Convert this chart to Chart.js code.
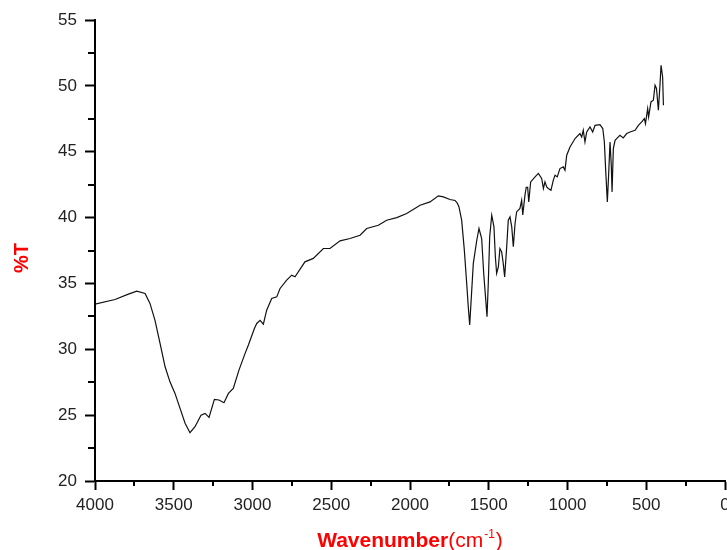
<!DOCTYPE html>
<html><head><meta charset="utf-8">
<script src="https://cdn.jsdelivr.net/npm/chart.js@4/dist/chart.umd.min.js"></script>
<style>html,body{margin:0;padding:0;background:#fff}#wrap{width:727px;height:550px;position:relative}</style>
</head><body><div id="wrap"><canvas id="c" width="727" height="550"></canvas></div>
<script>
const wavenumbers = [4000,3873,3788,3735,3682,3651,3619,3587,3555,3524,3492,3460,3428,3397,3365,3327,3301,3276,3242,3213,3181,3153,3122,3086,3047,3026,2988,2973,2952,2931,2910,2878,2846,2825,2783,2751,2730,2667,2614,2550,2508,2444,2381,2317,2275,2201,2148,2084,2021,1936,1873,1820,1788,1746,1714,1700,1689,1672,1655,1640,1630,1621,1608,1598,1576,1562,1545,1532,1519,1511,1503,1494,1481,1467,1458,1450,1439,1429,1418,1408,1399,1386,1376,1365,1354,1344,1333,1323,1302,1291,1284,1270,1262,1253,1246,1234,1206,1185,1164,1153,1143,1132,1122,1105,1090,1079,1065,1048,1027,1016,1005,984,952,921,910,900,889,878,857,840,825,794,776,766,757,747,739,730,722,717,709,698,688,667,646,624,603,571,550,529,512,505,491,485,470,455,444,435,423,413,406,396,391];
const transmittance = [33.43,33.78,34.19,34.42,34.24,33.48,32.2,30.45,28.67,27.53,26.65,25.51,24.38,23.67,24.12,25.0,25.13,24.83,26.2,26.15,25.94,26.65,27.03,28.42,29.69,30.32,31.58,31.96,32.2,31.9,32.97,33.86,33.98,34.62,35.25,35.63,35.5,36.64,36.9,37.65,37.65,38.23,38.41,38.66,39.17,39.42,39.8,40.0,40.31,40.94,41.19,41.65,41.57,41.37,41.3,41.1,40.81,39.8,37.53,35.0,33.22,31.84,34.49,36.52,38.28,39.17,38.41,35.76,33.73,32.47,35.0,38.54,40.18,39.29,37.02,35.76,36.26,37.65,37.4,36.52,35.5,37.78,39.8,40.05,39.29,37.78,39.55,40.43,40.69,41.32,40.2,41.7,42.3,42.3,41.19,42.71,43.09,43.35,42.97,42.21,42.71,42.33,42.21,42.08,42.84,43.22,43.09,43.72,43.85,43.6,44.73,45.36,46.0,46.38,46.12,46.63,45.74,46.5,46.88,46.5,47.0,47.06,46.76,45.74,43.47,41.19,43.22,45.74,43.98,41.95,45.23,45.87,46.0,46.25,46.05,46.38,46.5,46.63,47.0,47.26,47.51,47.13,48.27,47.64,48.78,48.91,50.04,49.8,48.15,50.04,51.56,50.67,48.53];
const xTickValues = [4000,3500,3000,2500,2000,1500,1000,500,0];
const xMinorTicks = [3750,3250,2750,2250,1750,1250,750,250];
const yTickValues = [20,25,30,35,40,45,50,55];
const yMinorTicks = [22.5,27.5,32.5,37.5,42.5,47.5,52.5];
const xTitle = 'Wavenumber';
const xTitleUnit = '(cm';
const xTitleSup = '-1';
const yTitle = '%T';

const points = wavenumbers.map((w, i) => ({x: w, y: transmittance[i]}));
const FONT = "'Liberation Sans', Arial, sans-serif";

const extras = {
  id: 'extras',
  afterDraw(chart) {
    const ctx = chart.ctx, xs = chart.scales.x, ys = chart.scales.y, ca = chart.chartArea;
    ctx.save();
    ctx.strokeStyle = '#000';
    ctx.lineWidth = 2;
    ctx.beginPath();
    xMinorTicks.forEach(v => {
      const p = Math.round(xs.getPixelForValue(v));
      ctx.moveTo(p, ca.bottom); ctx.lineTo(p, ca.bottom + 5);
    });
    yMinorTicks.forEach(v => {
      const p = Math.round(ys.getPixelForValue(v));
      ctx.moveTo(ca.left - 7, p); ctx.lineTo(ca.left, p);
    });
    ctx.stroke();
    // x title
    ctx.fillStyle = '#ff0000';
    ctx.textBaseline = 'alphabetic';
    ctx.textAlign = 'left';
    const fB = 'bold 21px ' + FONT, fN = '21px ' + FONT, fS = '12px ' + FONT;
    ctx.font = fB; const w1 = ctx.measureText(xTitle).width;
    ctx.font = fN; const w2 = ctx.measureText(xTitleUnit).width; const w4 = ctx.measureText(')').width;
    ctx.font = fS; const w3 = ctx.measureText(xTitleSup).width;
    const total = w1 + w2 + w3 + w4 + 2;
    let x = (ca.left + ca.right) / 2 - total / 2;
    const by = 547;
    ctx.font = fB; ctx.fillText(xTitle, x, by); x += w1;
    ctx.font = fN; ctx.fillText(xTitleUnit, x, by); x += w2 + 1;
    ctx.font = fS; ctx.fillText(xTitleSup, x, by - 9); x += w3 + 1;
    ctx.font = fN; ctx.fillText(')', x, by);
    // y title
    ctx.translate(22, 258);
    ctx.rotate(-Math.PI / 2);
    ctx.font = 'bold 20px ' + FONT; ctx.textAlign = 'center'; ctx.textBaseline = 'middle';
    ctx.fillText(yTitle, 0, 0);
    ctx.restore();
  }
};

new Chart(document.getElementById('c'), {
  type: 'scatter',
  data: { datasets: [{ data: points, showLine: true, borderColor: '#111', borderWidth: 1.2, pointRadius: 0, tension: 0, fill: false }] },
  options: {
    responsive: false, animation: false, devicePixelRatio: 1,
    layout: { padding: { top: 20, right: 2, left: 0, bottom: 0 } },
    plugins: { legend: { display: false }, tooltip: { enabled: false } },
    scales: {
      x: {
        type: 'linear', reverse: true, min: 0, max: 4000, position: 'bottom',
        afterBuildTicks: s => { s.ticks = xTickValues.map(v => ({value: v})); },
        afterFit: s => { s.height = 69; s.paddingLeft = 0; s.paddingRight = 0; },
        grid: { drawOnChartArea: false, drawTicks: true, tickLength: 9, tickColor: '#000', tickWidth: 2 },
        border: { display: true, color: '#000', width: 2 },
        ticks: { color: '#222', font: { family: FONT, size: 17 }, padding: 5, maxRotation: 0, autoSkip: false, callback: v => String(v) }
      },
      y: {
        type: 'linear', min: 20, max: 55, position: 'left',
        afterBuildTicks: s => { s.ticks = yTickValues.map(v => ({value: v})); },
        afterFit: s => { s.width = 95; s.paddingTop = 0; s.paddingBottom = 0; },
        grid: { drawOnChartArea: false, drawTicks: true, tickLength: 10, tickColor: '#000', tickWidth: 2 },
        border: { display: true, color: '#000', width: 2 },
        ticks: { color: '#222', font: { family: FONT, size: 17 }, padding: 8, autoSkip: false, callback: v => String(v) }
      }
    }
  },
  plugins: [extras]
});
</script></body></html>
